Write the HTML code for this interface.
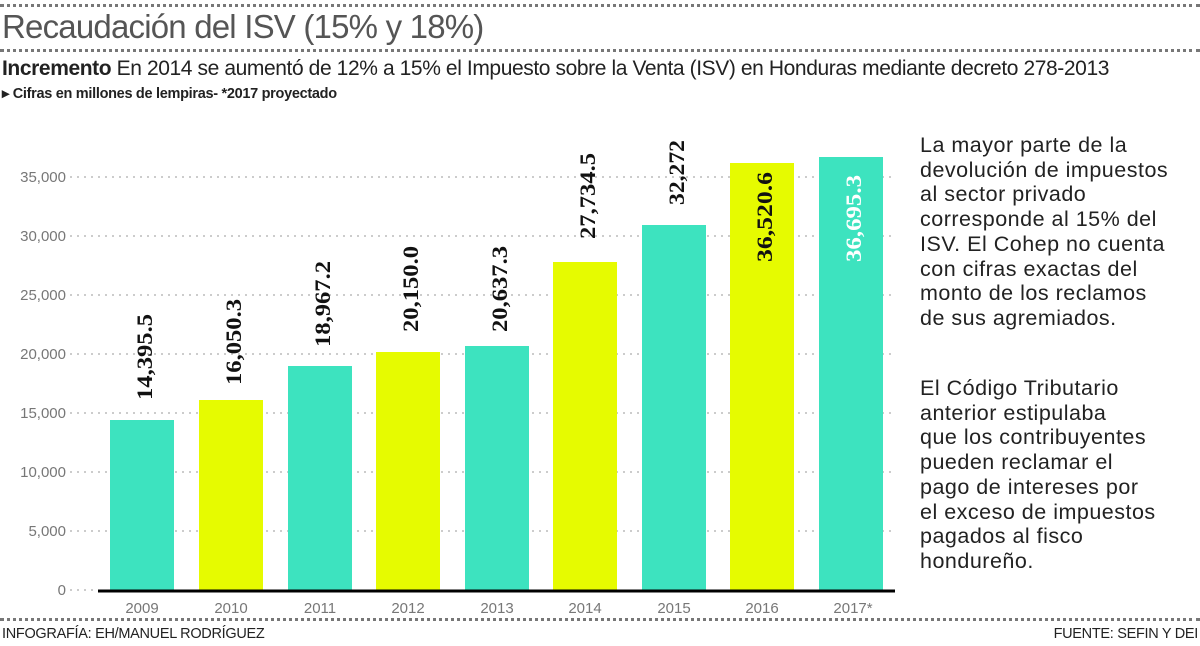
<!DOCTYPE html>
<html><head><meta charset="utf-8"><style>
body{margin:0;width:1200px;height:646px;background:#fff;position:relative;overflow:hidden;font-family:"Liberation Sans",sans-serif;color:#222}
.a{position:absolute;white-space:nowrap}
.dots{position:absolute;left:0;width:1200px;border-top:3px dotted #777}
</style></head><body>
<div class="dots" style="top:4px"></div>
<div class="a" style="left:2px;top:8px;font-size:33px;color:#555;letter-spacing:-0.8px">Recaudación del ISV (15% y 18%)</div>
<div class="dots" style="top:49px"></div>
<div class="a" style="left:2px;top:57px;font-size:21px;color:#222;letter-spacing:-0.4px"><b>Incremento</b> En 2014 se aumentó de 12% a 15% el Impuesto sobre la Venta (ISV) en Honduras mediante decreto 278-2013</div>
<div class="a" style="left:2px;top:86px;font-size:14.5px;font-weight:bold;color:#222;letter-spacing:-0.3px">▸ Cifras en millones de lempiras- *2017 proyectado</div>
<svg class="a" style="left:0;top:0" width="1200" height="646">
<g font-family="Liberation Sans" font-size="15" fill="#777" text-anchor="end">
<text x="66" y="182">35,000</text><text x="66" y="241">30,000</text><text x="66" y="300">25,000</text><text x="66" y="359">20,000</text><text x="66" y="418">15,000</text><text x="66" y="477">10,000</text><text x="66" y="536">5,000</text><text x="66" y="595">0</text>
</g>
<g stroke="#bbb" stroke-width="1.5" stroke-dasharray="2 5">
<line x1="70" x2="895" y1="177" y2="177"/><line x1="70" x2="895" y1="236" y2="236"/><line x1="70" x2="895" y1="295" y2="295"/><line x1="70" x2="895" y1="354" y2="354"/><line x1="70" x2="895" y1="413" y2="413"/><line x1="70" x2="895" y1="472" y2="472"/><line x1="70" x2="895" y1="531" y2="531"/><line x1="70" x2="98" y1="590" y2="590"/>
</g>
<g>
<rect x="110" y="420" width="64" height="170" fill="#3de3bf"/>
<rect x="199" y="400" width="64" height="190" fill="#e6fb00"/>
<rect x="288" y="366" width="64" height="224" fill="#3de3bf"/>
<rect x="376" y="352" width="64" height="238" fill="#e6fb00"/>
<rect x="465" y="346" width="64" height="244" fill="#3de3bf"/>
<rect x="553" y="262" width="64" height="328" fill="#e6fb00"/>
<rect x="642" y="225" width="64" height="365" fill="#3de3bf"/>
<rect x="730" y="163" width="64" height="427" fill="#e6fb00"/>
<rect x="819" y="157" width="64" height="433" fill="#3de3bf"/>
</g>
<line x1="98" x2="895" y1="591" y2="591" stroke="#000" stroke-width="3"/>
<g font-family="Liberation Serif" font-weight="bold" font-size="22" fill="#111">
<text transform="translate(152,400) rotate(-90)" textLength="86" lengthAdjust="spacingAndGlyphs">14,395.5</text>
<text transform="translate(241,385) rotate(-90)" textLength="86" lengthAdjust="spacingAndGlyphs">16,050.3</text>
<text transform="translate(330,347) rotate(-90)" textLength="86" lengthAdjust="spacingAndGlyphs">18,967.2</text>
<text transform="translate(418,332) rotate(-90)" textLength="86" lengthAdjust="spacingAndGlyphs">20,150.0</text>
<text transform="translate(507,332) rotate(-90)" textLength="86" lengthAdjust="spacingAndGlyphs">20,637.3</text>
<text transform="translate(595,239) rotate(-90)" textLength="86" lengthAdjust="spacingAndGlyphs">27,734.5</text>
<text transform="translate(684,205) rotate(-90)" textLength="65" lengthAdjust="spacingAndGlyphs">32,272</text>
<text transform="translate(772,262) rotate(-90)" textLength="90" lengthAdjust="spacingAndGlyphs">36,520.6</text>
<text transform="translate(861,262) rotate(-90)" textLength="87" lengthAdjust="spacingAndGlyphs" fill="#fff">36,695.3</text>
</g>
<g font-family="Liberation Sans" font-size="15" fill="#777" text-anchor="middle">
<text x="142" y="613">2009</text><text x="231" y="613">2010</text><text x="320" y="613">2011</text><text x="408" y="613">2012</text><text x="497" y="613">2013</text><text x="585" y="613">2014</text><text x="674" y="613">2015</text><text x="762" y="613">2016</text><text x="853" y="613">2017*</text>
</g>
</svg>
<div class="dots" style="top:618px"></div>
<div class="a" style="left:2px;top:626px;font-size:14.5px;color:#222;letter-spacing:-0.3px">INFOGRAFÍA: EH/MANUEL RODRÍGUEZ</div>
<div class="a" style="right:2px;top:626px;font-size:14.5px;color:#222;letter-spacing:-0.3px">FUENTE: SEFIN Y DEI</div>
<div class="a" style="left:920px;top:133px;font-size:21.5px;line-height:24.7px;color:#222;letter-spacing:0.5px">La mayor parte de la<br>devolución de impuestos<br>al sector privado<br>corresponde al 15% del<br>ISV. El Cohep no cuenta<br>con cifras exactas del<br>monto de los reclamos<br>de sus agremiados.</div>
<div class="a" style="left:920px;top:376px;font-size:21.5px;line-height:24.7px;color:#222;letter-spacing:0.5px">El Código Tributario<br>anterior estipulaba<br>que los contribuyentes<br>pueden reclamar el<br>pago de intereses por<br>el exceso de impuestos<br>pagados al fisco<br>hondureño.</div>
</body></html>
